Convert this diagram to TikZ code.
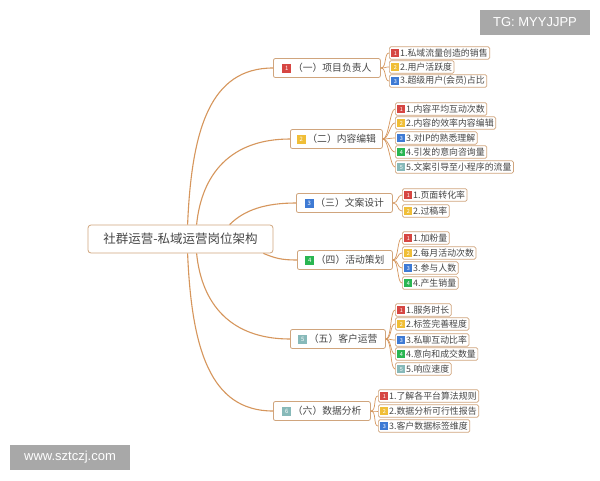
\documentclass[tikz,border=0pt]{standalone}
\usepackage{fontspec}
\setmainfont{Noto Sans CJK SC}
\newfontfamily\wmfont{Liberation Sans}
\usetikzlibrary{calc}
\definecolor{linec}{RGB}{214,150,92}
\definecolor{boxb}{RGB}{208,165,125}
\definecolor{textc}{RGB}{70,70,70}
\definecolor{icred}{RGB}{214,70,66}
\definecolor{icyel}{RGB}{240,190,55}
\definecolor{icblu}{RGB}{62,122,212}
\definecolor{icgrn}{RGB}{42,182,82}
\definecolor{ictea}{RGB}{135,185,185}
\definecolor{wmgray}{RGB}{168,168,168}
\newcommand\icoA[2]{\raisebox{-1pt}{\setlength{\fboxsep}{0pt}\colorbox{#1}{\makebox[9pt]{\rule{0pt}{9pt}\raisebox{2pt}{\textcolor{white}{\fontsize{6}{6}\selectfont #2}}}}}}
\newcommand\icoB[2]{\raisebox{-0.9pt}{\setlength{\fboxsep}{0pt}\colorbox{#1}{\makebox[8pt]{\rule{0pt}{8pt}\raisebox{1.7pt}{\textcolor{white}{\fontsize{5.5}{5.5}\selectfont #2}}}}}\hspace{0.8pt}}
\begin{document}
\begin{tikzpicture}[x=1pt,y=-1pt,
  rootbox/.style={draw=boxb, line width=0.8pt, rounded corners=3pt, fill=white,
    minimum width=185pt, minimum height=28pt, inner sep=0pt, text=textc,
    font=\fontsize{12.5}{14}\selectfont},
  lvlbox/.style={draw=boxb, line width=0.8pt, rounded corners=2pt, fill=white,
    minimum height=19pt, inner xsep=3pt, inner ysep=0pt, anchor=west, text=textc,
    font=\fontsize{9.8}{11}\selectfont},
  leafbox/.style={draw=boxb, line width=0.7pt, rounded corners=1.5pt, fill=white,
    minimum height=12.5pt, inner xsep=2pt, inner ysep=0pt, anchor=west, text=textc,
    font=\fontsize{8.9}{9.5}\selectfont},
  conn/.style={draw=linec, line width=1.1pt},
  conn2/.style={draw=linec, line width=0.7pt},
  wmbox/.style={fill=wmgray, text=white, inner sep=0pt, font=\wmfont\fontsize{13}{15}\selectfont}
]
\useasboundingbox (0,0) rectangle (600,480);
\fill[white] (0,0) rectangle (600,480);

% root
\node[rootbox] (root) at (180.5,239) {社群运营-私域运营岗位架构};

% level 1
\node[lvlbox, minimum width=107pt] (n1) at (273,68) {\icoA{icred}{1}\,（一）项目负责人};
\node[lvlbox, minimum width=92pt] (n2) at (290,139) {\icoA{icyel}{2}\,（二）内容编辑};
\node[lvlbox, minimum width=96pt] (n3) at (296,203) {\icoA{icblu}{3}\,（三）文案设计};
\node[lvlbox, minimum width=95pt] (n4) at (297,260) {\icoA{icgrn}{4}\,（四）活动策划};
\node[lvlbox, minimum width=95pt] (n5) at (290,339) {\icoA{ictea}{5}\,（五）客户运营};
\node[lvlbox, minimum width=97pt] (n6) at (273,411) {\icoA{ictea}{6}\,（六）数据分析};

% root connectors
\draw[conn] ($(root.north west)+(100,0)$) .. controls +(4,-95) and +(-63,0) .. (n1.west);
\draw[conn] ($(root.north west)+(109,0)$) .. controls +(5,-50) and +(-60,0) .. (n2.west);
\draw[conn] ($(root.north west)+(142,0)$) .. controls +(15,-15) and +(-30,0) .. (n3.west);
\draw[conn] ($(root.south east)+(-10,0)$) .. controls +(12,5) and +(-15,0) .. (n4.west);
\draw[conn] ($(root.south west)+(109,0)$) .. controls +(5,50) and +(-60,0) .. (n5.west);
\draw[conn] ($(root.south west)+(100,0)$) .. controls +(4,95) and +(-63,0) .. (n6.west);

% leaves 1
\node[leafbox] (l11) at (389,53) {\icoB{icred}{1}1.私域流量创造的销售};
\node[leafbox] (l12) at (389,67) {\icoB{icyel}{2}2.用户活跃度};
\node[leafbox] (l13) at (389,81) {\icoB{icblu}{3}3.超级用户(会员)占比};
% leaves 2
\node[leafbox] (l21) at (395,109) {\icoB{icred}{1}1.内容平均互动次数};
\node[leafbox] (l22) at (395,123) {\icoB{icyel}{2}2.内容的效率内容编辑};
\node[leafbox] (l23) at (395,138) {\icoB{icblu}{3}3.对IP的熟悉理解};
\node[leafbox] (l24) at (395,152) {\icoB{icgrn}{4}4.引发的意向咨询量};
\node[leafbox] (l25) at (395,167) {\icoB{ictea}{5}5.文案引导至小程序的流量};
% leaves 3
\node[leafbox] (l31) at (402,195) {\icoB{icred}{1}1.页面转化率};
\node[leafbox] (l32) at (402,211) {\icoB{icyel}{2}2.过稿率};
% leaves 4
\node[leafbox] (l41) at (402,238) {\icoB{icred}{1}1.加粉量};
\node[leafbox] (l42) at (402,253) {\icoB{icyel}{2}2.每月活动次数};
\node[leafbox] (l43) at (402,268) {\icoB{icblu}{3}3.参与人数};
\node[leafbox] (l44) at (402,283) {\icoB{icgrn}{4}4.产生销量};
% leaves 5
\node[leafbox] (l51) at (395,310) {\icoB{icred}{1}1.服务时长};
\node[leafbox] (l52) at (395,324) {\icoB{icyel}{2}2.标签完善程度};
\node[leafbox] (l53) at (395,340) {\icoB{icblu}{3}3.私聊互动比率};
\node[leafbox] (l54) at (395,354) {\icoB{icgrn}{4}4.意向和成交数量};
\node[leafbox] (l55) at (395,369) {\icoB{ictea}{5}5.响应速度};
% leaves 6
\node[leafbox] (l61) at (378,396) {\icoB{icred}{1}1.了解各平台算法规则};
\node[leafbox] (l62) at (378,411) {\icoB{icyel}{2}2.数据分析可行性报告};
\node[leafbox] (l63) at (378,426) {\icoB{icblu}{3}3.客户数据标签维度};

% leaf connectors
\foreach \p/\list in {n1/{l11,l12,l13}, n2/{l21,l22,l23,l24,l25}, n3/{l31,l32},
  n4/{l41,l42,l43,l44}, n5/{l51,l52,l53,l54,l55}, n6/{l61,l62,l63}} {
  \foreach \c in \list {
    \draw[conn2] (\p.east) .. controls +(6,0) and +(-5,0) .. (\c.west);
  }
}

% watermarks
\node[wmbox, minimum width=110pt, minimum height=25pt] (wm1) at (535,22.5) {TG: MYYJJPP};
\node[wmbox, minimum width=120pt, minimum height=25pt] (wm2) at (70,457.5) {www.sztczj.com};
\end{tikzpicture}
\end{document}
